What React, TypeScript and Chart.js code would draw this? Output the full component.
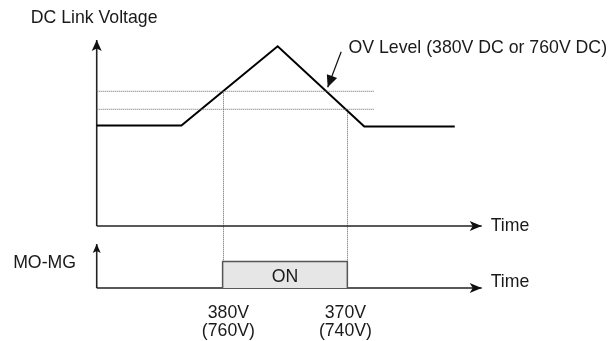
import React, { useEffect, useRef } from "react";
import { Chart, registerables } from "chart.js";

Chart.register(...registerables);

// ---- data (schematic units: time in arbitrary units, voltage in V DC, MO-MG state 0/1)
const TIME = [0, 22, 47, 69.5, 93];
const DC_LINK_VOLTAGE = [361, 361, 405, 360.4, 360.4];
const OV_LEVELS = [380, 370];
const OV_LEVEL_SPAN = [0, 72];
const SWITCH_TIMES = [32.7, 65.1];
const SWITCH_LABEL_TIMES = [34.2, 64.6];
const SWITCH_LABELS = [
  ["380V", "(760V)"],
  ["370V", "(740V)"],
];
const MOMG_TIMES = [32.7, 32.7, 65.1, 65.1];
const MOMG_STATE = [0, 1, 1, 0];
const TIME_AXIS = [0, 100];
const VOLTAGE_AXIS = [305.2, 408.5];
const STATE_AXIS = [0, 1.66];
const OV_POINTER_FROM = [63.5, 402];
const OV_POINTER_TO = [60, 382.2];

const VOLTAGE_TITLE = "DC Link Voltage";
const OV_TITLE = "OV Level (380V DC or 760V DC)";
const TIME_TITLE = "Time";
const MOMG_TITLE = "MO-MG";
const ON_TITLE = "ON";

const FONT = '17.7px "Liberation Sans", Arial, sans-serif';
const INK = "#1a1a1a";

function drawHead(ctx, tipX, tipY, fromX, fromY, len, width, notch) {
  const dx = tipX - fromX;
  const dy = tipY - fromY;
  const d = Math.hypot(dx, dy) || 1;
  const ux = dx / d;
  const uy = dy / d;
  const nx = -uy;
  const ny = ux;
  const bx = tipX - ux * len;
  const by = tipY - uy * len;
  ctx.beginPath();
  ctx.moveTo(tipX, tipY);
  ctx.lineTo(bx + (nx * width) / 2, by + (ny * width) / 2);
  ctx.lineTo(tipX - ux * (len - notch), tipY - uy * (len - notch));
  ctx.lineTo(bx - (nx * width) / 2, by - (ny * width) / 2);
  ctx.closePath();
  ctx.fill();
}

const diagramPlugin = {
  id: "diagram",
  beforeDatasetsDraw(chart) {
    const { ctx } = chart;
    const sx = chart.scales.x;
    const sy = chart.scales.y;
    const s2 = chart.scales.y2;
    ctx.save();
    ctx.strokeStyle = "#666";
    ctx.lineWidth = 1;
    ctx.setLineDash([1, 1]);
    SWITCH_TIMES.forEach((t, i) => {
      const x = Math.round(sx.getPixelForValue(t)) + 0.5;
      ctx.beginPath();
      ctx.moveTo(x, sy.getPixelForValue(OV_LEVELS[i]));
      ctx.lineTo(x, s2.getPixelForValue(1));
      ctx.stroke();
    });
    ctx.restore();
  },
  afterDatasetsDraw(chart) {
    const { ctx } = chart;
    const sx = chart.scales.x;
    const sy = chart.scales.y;
    const s2 = chart.scales.y2;
    ctx.save();
    ctx.fillStyle = "#111";
    // top axes
    const x0 = sx.getPixelForValue(TIME_AXIS[0]);
    const xEnd = sx.getPixelForValue(TIME_AXIS[1]);
    const yBase = sy.getPixelForValue(VOLTAGE_AXIS[0]);
    const yTop = sy.getPixelForValue(VOLTAGE_AXIS[1]);
    drawHead(ctx, xEnd, yBase, x0, yBase, 12, 10, 3);
    drawHead(ctx, x0, yTop, x0, yBase, 11, 10, 2.5);
    // bottom axes
    const b0 = s2.getPixelForValue(STATE_AXIS[0]);
    const bTop = s2.getPixelForValue(STATE_AXIS[1]);
    drawHead(ctx, xEnd, b0, x0, b0, 12, 10, 3);
    drawHead(ctx, x0, bTop, x0, b0, 9, 8, 2);
    // OV pointer
    const pfx = sx.getPixelForValue(OV_POINTER_FROM[0]);
    const pfy = sy.getPixelForValue(OV_POINTER_FROM[1]);
    const ptx = sx.getPixelForValue(OV_POINTER_TO[0]);
    const pty = sy.getPixelForValue(OV_POINTER_TO[1]);
    drawHead(ctx, ptx, pty, pfx, pfy, 12, 11, 0);

    // texts
    ctx.font = FONT;
    ctx.fillStyle = INK;
    ctx.textBaseline = "alphabetic";
    ctx.textAlign = "left";
    ctx.fillText(VOLTAGE_TITLE, x0 - 66, yTop - 17.3);
    ctx.fillText(OV_TITLE, pfx + 7.3, pfy + 1.6);
    ctx.fillText(TIME_TITLE, xEnd + 9, yBase + 5.5);
    ctx.fillText(TIME_TITLE, xEnd + 9, b0 - 1);
    ctx.textAlign = "right";
    ctx.fillText(MOMG_TITLE, x0 - 20.7, s2.getPixelForValue(1) + 6.2);
    ctx.textAlign = "center";
    const onX = (sx.getPixelForValue(SWITCH_TIMES[0]) + sx.getPixelForValue(SWITCH_TIMES[1])) / 2;
    ctx.fillText(ON_TITLE, onX, s2.getPixelForValue(0.5) + 6.9);
    SWITCH_LABEL_TIMES.forEach((t, i) => {
      const x = sx.getPixelForValue(t);
      ctx.fillText(SWITCH_LABELS[i][0], x, b0 + 29.5);
      ctx.fillText(SWITCH_LABELS[i][1], x, b0 + 47.5);
    });
    ctx.restore();
  },
};

const pts = (xs, ys) => xs.map((x, i) => ({ x, y: ys[i] }));

export default function App() {
  const ref = useRef(null);
  useEffect(() => {
    const canvas = ref.current;
    if (!canvas) return;
    const common = { pointRadius: 0, tension: 0, fill: false };
    const axisStyle = { borderColor: "#222", borderWidth: 1.6 };
    const chart = new Chart(canvas, {
      type: "line",
      data: {
        datasets: [
          {
            ...common,
            yAxisID: "y2",
            data: pts(MOMG_TIMES, MOMG_STATE),
            fill: "origin",
            backgroundColor: "#e6e6e6",
            borderColor: "#555",
            borderWidth: 1.5,
          },
          ...OV_LEVELS.map((lvl) => ({
            ...common,
            yAxisID: "y",
            data: pts(OV_LEVEL_SPAN, [lvl, lvl]),
            borderColor: "#666",
            borderWidth: 1,
            borderDash: [1, 1],
          })),
          {
            ...common,
            yAxisID: "y",
            data: pts(TIME, DC_LINK_VOLTAGE),
            borderColor: "#000",
            borderWidth: 2,
          },
          { ...common, ...axisStyle, yAxisID: "y", data: pts(TIME_AXIS, [VOLTAGE_AXIS[0], VOLTAGE_AXIS[0]]) },
          { ...common, ...axisStyle, yAxisID: "y", data: pts([TIME_AXIS[0], TIME_AXIS[0]], VOLTAGE_AXIS) },
          { ...common, ...axisStyle, yAxisID: "y2", data: pts(TIME_AXIS, [STATE_AXIS[0], STATE_AXIS[0]]) },
          { ...common, ...axisStyle, yAxisID: "y2", data: pts([TIME_AXIS[0], TIME_AXIS[0]], STATE_AXIS) },
          {
            ...common,
            yAxisID: "y",
            data: pts([OV_POINTER_FROM[0], OV_POINTER_TO[0]], [OV_POINTER_FROM[1], OV_POINTER_TO[1]]),
            borderColor: "#111",
            borderWidth: 1.2,
          },
        ],
      },
      options: {
        animation: false,
        responsive: false,
        devicePixelRatio: 1,
        events: [],
        layout: { padding: 0 },
        plugins: { legend: { display: false }, tooltip: { enabled: false } },
        scales: {
          x: { type: "linear", display: false, min: -25.12, max: 134.1 },
          y: { type: "linear", display: false, min: 241.3, max: 430.7 },
          y2: { type: "linear", display: false, min: -2, max: 10.87 },
        },
      },
      plugins: [diagramPlugin],
    });
    return () => chart.destroy();
  }, []);
  return (
    <div style={{ position: "fixed", left: 0, top: 0, width: 613, height: 341, background: "#fff" }}>
      <canvas ref={ref} width={613} height={341} style={{ display: "block" }} />
    </div>
  );
}
